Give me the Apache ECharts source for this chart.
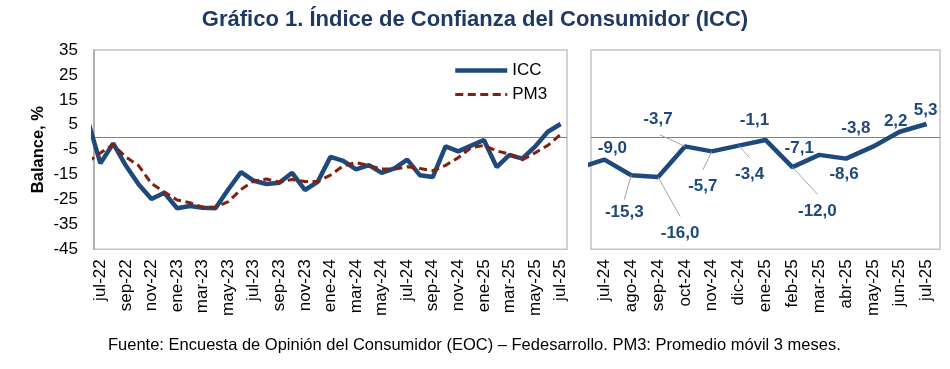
<!DOCTYPE html>
<html>
<head>
<meta charset="utf-8">
<script src="https://cdn.jsdelivr.net/npm/echarts@6/dist/echarts.min.js"></script>
<style>
  html, body { margin: 0; padding: 0; background: #fff; }
  #chart { width: 950px; height: 369px; }
</style>
</head>
<body>
<div id="chart"></div>
<script>
// Months from jun-22 (clipped at the left edge) to jul-25
const months = ['jun-22','jul-22','ago-22','sep-22','oct-22','nov-22','dic-22',
  'ene-23','feb-23','mar-23','abr-23','may-23','jun-23','jul-23','ago-23','sep-23','oct-23','nov-23','dic-23',
  'ene-24','feb-24','mar-24','abr-24','may-24','jun-24','jul-24','ago-24','sep-24','oct-24','nov-24','dic-24',
  'ene-25','feb-25','mar-25','abr-25','may-25','jun-25','jul-25'];

const icc = [7.0, -10.5, -2.5, -11.5, -19.0, -24.8, -22.3,
  -28.5, -27.6, -28.3, -28.5, -21.0, -14.0, -17.5, -18.8, -18.3, -14.3, -21.2, -17.9,
  -7.9, -9.5, -12.9, -11.2, -14.3, -12.5, -9.0, -15.3, -16.0, -3.7, -5.7, -3.4,
  -1.1, -12.0, -7.1, -8.6, -3.8, 2.2, 5.3];

const pm3 = [-10.0, -6.3, -3.0, -8.0, -11.5, -18.6, -22.0,
  -25.2, -26.3, -28.1, -28.1, -25.9, -21.0, -17.6, -16.8, -18.0, -17.0, -17.8, -17.7,
  -15.2, -11.5, -10.2, -11.4, -12.8, -12.8, -11.9, -12.6, -13.4, -11.3, -8.2, -4.2,
  -3.3, -5.5, -6.8, -9.1, -6.3, -3.3, 1.1];

const yTicks = [-45, -35, -25, -15, -5, 5, 15, 25, 35];

// Right panel: from jun-24 (clipped) to jul-25
const rightStart = months.indexOf('jun-24');
const rightMonths = months.slice(rightStart);
const rightIcc = icc.slice(rightStart);

// label placement (pixel offsets) for right panel labels: [dx, dy, leaderDx, leaderDy]
const rightLabelLayout = [
  [8, -11.5], [-7, 37.5, -7, 24], [22, 56, 22, 39.5], [-27, -26.6, -25, -11.6],
  [-9, 35, -9, 18.5], [11, 29, 11, 12], [-11, -20], [25, 44.4, 25, 27],
  [-20, -7], [-2, 16], [-17, -18.5], [-4, -10], [-1, -14]
];

const FONT = "'Liberation Sans', Arial, sans-serif";
const BLUE = '#1F497D';
const RED = '#84200F';
const DASH = [8, 4.5];

const leftData = icc.map((v, i) => [i - 1, v]);
const leftPm3 = pm3.map((v, i) => [i - 1, v]);
const rightData = rightIcc.map((v, i) => [i - 1, v]);
const rightLabelData = rightIcc.slice(1).map((v, i) => [i, v]);

const leftTicks = [];
for (let i = 0; i <= 36; i += 2) leftTicks.push(i);
const rightTicks = [];
for (let i = 0; i <= 12; i++) rightTicks.push(i);

const fmt = v => v.toFixed(1).replace('.', ',');

const chart = echarts.init(document.getElementById('chart'), null, { renderer: 'canvas' });
chart.setOption({
  animation: false,
  backgroundColor: '#ffffff',
  title: [
    {
      text: 'Gráfico 1. Índice de Confianza del Consumidor (ICC)',
      left: 'center', top: 4,
      textStyle: { fontFamily: "'Liberation Sans Narrow', 'Liberation Sans', sans-serif", fontSize: 22, fontWeight: 'bold', color: '#1F3864' }
    },
    {
      text: 'Fuente: Encuesta de Opinión del Consumidor (EOC) – Fedesarrollo. PM3: Promedio móvil 3 meses.',
      left: 103, top: 332,
      textStyle: { fontFamily: FONT, fontSize: 16.5, fontWeight: 'normal', color: '#000' }
    }
  ],
  legend: {
    data: [
      { name: 'ICC', lineStyle: { width: 4.5, color: BLUE, type: 'solid' } },
      { name: 'PM3', lineStyle: { width: 3, color: RED, type: DASH } }
    ],
    orient: 'vertical',
    left: 448, top: 57,
    itemWidth: 52, itemHeight: 14, itemGap: 7,
    itemStyle: { opacity: 0, borderWidth: 0 },
    textStyle: { fontFamily: FONT, fontSize: 17, color: '#000' }
  },
  grid: [
    { left: 94, top: 50, width: 473, height: 199.3, show: true, borderColor: '#C4C4C4', borderWidth: 1.5, backgroundColor: '#fff' },
    { left: 591, top: 50, width: 349, height: 199.3, show: true, borderColor: '#C4C4C4', borderWidth: 1.5, backgroundColor: '#fff' }
  ],
  xAxis: [
    {
      type: 'value', gridIndex: 0, min: -0.5, max: 36.5,
      axisLine: { show: false }, axisTick: { show: false }, splitLine: { show: false },
      axisLabel: {
        customValues: leftTicks, rotate: 90, margin: 10,
        fontFamily: FONT, fontSize: 17, color: '#000',
        formatter: v => months[Math.round(v) + 1]
      }
    },
    {
      type: 'value', gridIndex: 1, min: -0.5, max: 12.5,
      axisLine: { show: false }, axisTick: { show: false }, splitLine: { show: false },
      axisLabel: {
        customValues: rightTicks, rotate: 90, margin: 10,
        fontFamily: FONT, fontSize: 17, color: '#000',
        formatter: v => rightMonths[Math.round(v) + 1]
      }
    }
  ],
  yAxis: [
    {
      type: 'value', gridIndex: 0, min: -45, max: 35, interval: 10,
      name: 'Balance, %', nameLocation: 'middle', nameGap: 47, nameRotate: 90,
      nameTextStyle: { fontFamily: FONT, fontSize: 16.5, fontWeight: 'bold', color: '#000' },
      axisLine: { show: true, onZero: false, lineStyle: { color: '#A6A6A6', width: 1.5 } },
      axisTick: { show: false }, splitLine: { show: false },
      axisLabel: { fontFamily: FONT, fontSize: 17, color: '#000', margin: 16,
        customValues: yTicks }
    },
    {
      type: 'value', gridIndex: 1, min: -45, max: 35, interval: 10,
      axisLine: { show: false }, axisTick: { show: false }, splitLine: { show: false },
      axisLabel: { show: false }
    }
  ],
  series: [
    {
      name: 'PM3', type: 'line', xAxisIndex: 0, yAxisIndex: 0, z: 8,
      data: leftPm3, symbol: 'none', clip: true,
      lineStyle: { color: RED, width: 3, type: DASH },
      itemStyle: { color: RED },
      markLine: {
        silent: true, symbol: 'none', z: 1, animation: false,
        label: { show: false },
        lineStyle: { color: '#808080', type: 'solid', width: 1.2 },
        data: [{ yAxis: 0 }]
      }
    },
    {
      name: 'ICC', type: 'line', xAxisIndex: 0, yAxisIndex: 0, z: 7,
      data: leftData, symbol: 'none', clip: true,
      lineStyle: { color: BLUE, width: 4.5 },
      itemStyle: { color: BLUE }
    },
    {
      name: 'ICC últimos 13 meses', type: 'line', xAxisIndex: 1, yAxisIndex: 1, z: 7,
      data: rightData, symbol: 'none', clip: true,
      lineStyle: { color: BLUE, width: 4.5 },
      itemStyle: { color: BLUE },
      markLine: {
        silent: true, symbol: 'none', z: 1, animation: false,
        label: { show: false },
        lineStyle: { color: '#808080', type: 'solid', width: 1.2 },
        data: [{ yAxis: 0 }]
      }
    },
    {
      name: 'Etiquetas', type: 'custom', xAxisIndex: 1, yAxisIndex: 1, z: 9,
      clip: false, silent: true,
      data: rightLabelData,
      renderItem: function (params, api) {
        const idx = params.dataIndex;
        const x = api.value(0), v = api.value(1);
        const p = api.coord([x, v]);
        const lay = rightLabelLayout[idx];
        const children = [];
        if (lay.length > 2) {
          children.push({
            type: 'line',
            shape: { x1: p[0], y1: p[1], x2: p[0] + lay[2], y2: p[1] + lay[3] },
            style: { stroke: '#A6A6A6', lineWidth: 1 }
          });
        }
        children.push({
          type: 'text',
          x: p[0] + lay[0], y: p[1] + lay[1],
          style: {
            text: fmt(v), fill: BLUE,
            fontFamily: FONT, fontSize: 17, fontWeight: 'bold',
            align: 'center', verticalAlign: 'middle'
          }
        });
        return { type: 'group', children: children };
      }
    }
  ]
});
</script>
</body>
</html>
